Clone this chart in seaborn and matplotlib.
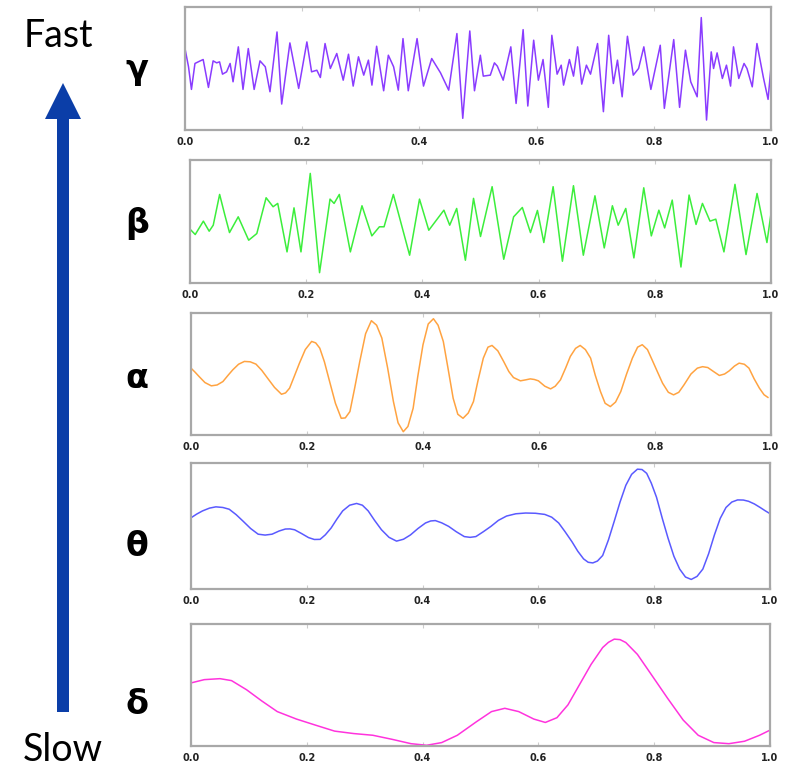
import matplotlib
matplotlib.use("Agg")
import matplotlib.pyplot as plt
import seaborn as sns
import pandas as pd
from matplotlib.patches import FancyArrow

# ---------------- data (normalised 0 = bottom spine, 1 = top spine) -------------
gamma_t = [0.000, 0.006, 0.011, 0.017, 0.026, 0.031, 0.040, 0.048, 0.054, 0.059, 0.064, 0.071, 0.077,
           0.082, 0.091, 0.099, 0.108, 0.118, 0.128, 0.137, 0.145, 0.157, 0.165, 0.179, 0.194, 0.208,
           0.216, 0.225, 0.231, 0.239, 0.248, 0.259, 0.270, 0.279, 0.287, 0.296, 0.305, 0.313, 0.319,
           0.327, 0.339, 0.347, 0.356, 0.364, 0.372, 0.381, 0.396, 0.407, 0.421, 0.436, 0.450, 0.464,
           0.474, 0.486, 0.494, 0.504, 0.509, 0.521, 0.528, 0.533, 0.543, 0.556, 0.565, 0.577, 0.585,
           0.595, 0.603, 0.611, 0.620, 0.626, 0.635, 0.642, 0.646, 0.656, 0.663, 0.670, 0.677, 0.685,
           0.692, 0.704, 0.714, 0.723, 0.731, 0.738, 0.746, 0.755, 0.765, 0.774, 0.783, 0.795, 0.811,
           0.818, 0.834, 0.844, 0.854, 0.863, 0.874, 0.881, 0.890, 0.898, 0.902, 0.908, 0.917, 0.924,
           0.931, 0.936, 0.945, 0.954, 0.959, 0.968, 0.976, 0.987, 0.995, 1.000]
gamma_v = [0.662, 0.514, 0.330, 0.541, 0.562, 0.573, 0.346, 0.562, 0.546, 0.554, 0.454, 0.473, 0.541,
           0.392, 0.676, 0.330, 0.662, 0.330, 0.562, 0.514, 0.311, 0.797, 0.211, 0.708, 0.338, 0.716,
           0.473, 0.486, 0.427, 0.703, 0.500, 0.622, 0.405, 0.616, 0.357, 0.595, 0.446, 0.568, 0.365,
           0.681, 0.319, 0.608, 0.514, 0.324, 0.743, 0.319, 0.743, 0.357, 0.581, 0.465, 0.324, 0.784,
           0.095, 0.805, 0.319, 0.608, 0.438, 0.446, 0.546, 0.519, 0.405, 0.676, 0.216, 0.816, 0.195,
           0.730, 0.405, 0.573, 0.184, 0.770, 0.454, 0.527, 0.365, 0.573, 0.438, 0.676, 0.373, 0.527,
           0.454, 0.703, 0.149, 0.770, 0.378, 0.568, 0.270, 0.762, 0.446, 0.500, 0.676, 0.330, 0.689,
           0.176, 0.735, 0.184, 0.649, 0.392, 0.270, 0.914, 0.081, 0.635, 0.500, 0.627, 0.419, 0.527,
           0.357, 0.676, 0.419, 0.541, 0.500, 0.351, 0.703, 0.427, 0.249, 0.514]

beta_t = [0.000, 0.009, 0.023, 0.033, 0.040, 0.051, 0.060, 0.068, 0.083, 0.101, 0.115, 0.131, 0.143,
          0.151, 0.167, 0.179, 0.191, 0.207, 0.223, 0.241, 0.248, 0.257, 0.276, 0.296, 0.313, 0.326,
          0.334, 0.350, 0.378, 0.395, 0.411, 0.437, 0.447, 0.459, 0.474, 0.488, 0.500, 0.520, 0.540,
          0.557, 0.572, 0.586, 0.598, 0.609, 0.625, 0.641, 0.660, 0.677, 0.697, 0.713, 0.727, 0.737,
          0.750, 0.764, 0.781, 0.794, 0.807, 0.817, 0.830, 0.845, 0.859, 0.871, 0.882, 0.895, 0.905,
          0.919, 0.938, 0.957, 0.976, 0.993, 1.000]
beta_v = [0.438, 0.394, 0.503, 0.421, 0.470, 0.720, 0.552, 0.410, 0.538, 0.348, 0.402, 0.693, 0.620,
          0.647, 0.253, 0.611, 0.253, 0.891, 0.084, 0.682, 0.647, 0.720, 0.253, 0.628, 0.383, 0.457,
          0.457, 0.720, 0.226, 0.682, 0.429, 0.592, 0.470, 0.606, 0.185, 0.688, 0.378, 0.783, 0.193,
          0.538, 0.614, 0.410, 0.590, 0.329, 0.783, 0.177, 0.791, 0.226, 0.709, 0.285, 0.628, 0.470,
          0.606, 0.204, 0.774, 0.383, 0.592, 0.448, 0.674, 0.130, 0.715, 0.476, 0.647, 0.503, 0.519,
          0.253, 0.802, 0.231, 0.728, 0.329, 0.565]

alpha_t = [0.000, 0.007, 0.014, 0.024, 0.035, 0.045, 0.055, 0.064, 0.072, 0.082, 0.092, 0.102, 0.112,
           0.122, 0.132, 0.144, 0.156, 0.163, 0.170, 0.178, 0.187, 0.197, 0.208, 0.215, 0.222, 0.230,
           0.239, 0.249, 0.259, 0.266, 0.274, 0.282, 0.291, 0.301, 0.311, 0.320, 0.329, 0.339, 0.349,
           0.357, 0.366, 0.374, 0.383, 0.391, 0.400, 0.409, 0.418, 0.426, 0.435, 0.443, 0.452, 0.460,
           0.469, 0.478, 0.487, 0.495, 0.504, 0.512, 0.519, 0.529, 0.539, 0.548, 0.556, 0.568, 0.577,
           0.585, 0.592, 0.599, 0.610, 0.620, 0.628, 0.637, 0.646, 0.654, 0.663, 0.671, 0.680, 0.689,
           0.697, 0.706, 0.714, 0.723, 0.732, 0.741, 0.751, 0.761, 0.770, 0.778, 0.787, 0.795, 0.804,
           0.813, 0.823, 0.832, 0.841, 0.850, 0.862, 0.873, 0.882, 0.891, 0.901, 0.911, 0.920, 0.928,
           0.937, 0.945, 0.954, 0.962, 0.971, 0.980, 0.988, 0.995]
alpha_v = [0.548, 0.515, 0.479, 0.430, 0.403, 0.410, 0.438, 0.490, 0.534, 0.580, 0.603, 0.600, 0.581,
           0.530, 0.466, 0.390, 0.334, 0.345, 0.384, 0.480, 0.589, 0.700, 0.767, 0.755, 0.712, 0.600,
           0.438, 0.260, 0.137, 0.140, 0.192, 0.380, 0.603, 0.830, 0.937, 0.900, 0.795, 0.550, 0.274,
           0.100, 0.027, 0.070, 0.219, 0.480, 0.740, 0.910, 0.953, 0.900, 0.767, 0.550, 0.301, 0.170,
           0.137, 0.180, 0.274, 0.450, 0.630, 0.720, 0.734, 0.690, 0.603, 0.520, 0.471, 0.444, 0.452,
           0.460, 0.455, 0.444, 0.400, 0.378, 0.400, 0.452, 0.550, 0.644, 0.710, 0.734, 0.700, 0.630,
           0.490, 0.356, 0.260, 0.233, 0.270, 0.356, 0.500, 0.630, 0.720, 0.740, 0.700, 0.616, 0.520,
           0.425, 0.350, 0.329, 0.350, 0.411, 0.500, 0.548, 0.560, 0.553, 0.520, 0.488, 0.500, 0.526,
           0.565, 0.589, 0.580, 0.548, 0.460, 0.384, 0.330, 0.307]

theta_t = [0.000, 0.010, 0.020, 0.032, 0.043, 0.055, 0.066, 0.078, 0.090, 0.103, 0.116, 0.128, 0.140,
           0.152, 0.163, 0.171, 0.179, 0.191, 0.203, 0.213, 0.223, 0.232, 0.242, 0.252, 0.262, 0.274,
           0.286, 0.296, 0.306, 0.317, 0.329, 0.342, 0.355, 0.367, 0.379, 0.392, 0.405, 0.414, 0.422,
           0.433, 0.445, 0.458, 0.472, 0.482, 0.492, 0.505, 0.518, 0.531, 0.545, 0.561, 0.578, 0.595,
           0.611, 0.623, 0.635, 0.646, 0.658, 0.668, 0.678, 0.686, 0.694, 0.702, 0.711, 0.721, 0.731,
           0.741, 0.751, 0.761, 0.771, 0.779, 0.787, 0.795, 0.804, 0.814, 0.824, 0.834, 0.844, 0.854,
           0.864, 0.874, 0.884, 0.894, 0.904, 0.914, 0.924, 0.934, 0.944, 0.954, 0.963, 0.973, 0.983,
           0.992, 1.000]
theta_v = [0.565, 0.595, 0.620, 0.642, 0.652, 0.647, 0.633, 0.590, 0.538, 0.480, 0.435, 0.428, 0.435,
           0.460, 0.476, 0.477, 0.470, 0.440, 0.408, 0.393, 0.394, 0.430, 0.484, 0.555, 0.620, 0.665,
           0.679, 0.665, 0.620, 0.545, 0.470, 0.410, 0.380, 0.395, 0.429, 0.480, 0.524, 0.540, 0.543,
           0.525, 0.497, 0.455, 0.416, 0.410, 0.416, 0.455, 0.497, 0.545, 0.579, 0.597, 0.603, 0.601,
           0.592, 0.570, 0.524, 0.455, 0.375, 0.300, 0.239, 0.212, 0.207, 0.222, 0.266, 0.390, 0.538,
           0.690, 0.823, 0.910, 0.951, 0.948, 0.918, 0.840, 0.728, 0.560, 0.402, 0.260, 0.158, 0.095,
           0.076, 0.100, 0.158, 0.280, 0.429, 0.560, 0.647, 0.690, 0.707, 0.706, 0.696, 0.675, 0.647,
           0.620, 0.598]

delta_t = [0.000, 0.023, 0.050, 0.070, 0.096, 0.122, 0.149, 0.182, 0.215, 0.248, 0.281, 0.314, 0.347,
           0.380, 0.407, 0.433, 0.460, 0.493, 0.519, 0.542, 0.566, 0.592, 0.612, 0.632, 0.651, 0.671,
           0.691, 0.711, 0.721, 0.731, 0.741, 0.751, 0.771, 0.797, 0.823, 0.850, 0.876, 0.903, 0.929,
           0.956, 0.982, 1.000]
delta_v = [0.517, 0.544, 0.552, 0.536, 0.461, 0.370, 0.282, 0.221, 0.171, 0.122, 0.102, 0.088, 0.055,
           0.019, 0.006, 0.028, 0.088, 0.199, 0.282, 0.309, 0.282, 0.221, 0.193, 0.232, 0.337, 0.503,
           0.669, 0.807, 0.850, 0.876, 0.872, 0.848, 0.751, 0.572, 0.392, 0.213, 0.088, 0.028, 0.019,
           0.039, 0.088, 0.130]

band_labels = ["γ", "β", "α", "θ", "δ"]
band_colors = ["#8a3cff", "#3cee3c", "#ffa341", "#5a5aff", "#ff33dd"]
tick_values = [0.0, 0.2, 0.4, 0.6, 0.8, 1.0]
tick_labels = ["0.0", "0.2", "0.4", "0.6", "0.8", "1.0"]
speed_labels = ["Fast", "Slow"]

series = [(gamma_t, gamma_v), (beta_t, beta_v), (alpha_t, alpha_v), (theta_t, theta_v), (delta_t, delta_v)]

# ---------------- layout (pixel boxes: left, top, right, bottom) -------------
W, H = 790, 770
boxes = [(185, 7, 771, 130), (190, 160, 771, 283), (191, 313, 771, 435),
         (191, 463, 770, 589), (191, 624, 770, 746)]
label_pos = [(137, 70), (137, 224), (137, 378), (137, 546), (137, 704)]

sns.set_style("white")
plt.rcParams["font.family"] = ["DejaVu Sans"]

fig = plt.figure(figsize=(W / 100, H / 100), dpi=100)

# overlay for arrow and labels (pixel coordinates)
ov = fig.add_axes([0, 0, 1, 1], zorder=-1)
ov.set_xlim(0, W)
ov.set_ylim(H, 0)
ov.axis("off")

for (t, v), col, (l, tp, r, b) in zip(series, band_colors, boxes):
    ax = fig.add_axes([l / W, 1 - b / H, (r - l) / W, (b - tp) / H])
    df = pd.DataFrame({"t": t, "v": v})
    sns.lineplot(data=df, x="t", y="v", ax=ax, color=col, linewidth=1.1,
                 solid_joinstyle="round", solid_capstyle="round")
    ax.set_xlim(0, 1)
    ax.set_ylim(0, 1)
    ax.set_xlabel("")
    ax.set_ylabel("")
    ax.set_yticks([])
    ax.set_xticks(tick_values)
    ax.set_xticklabels(tick_labels, fontsize=7, fontweight="bold", color="#222222")
    ax.tick_params(axis="x", direction="in", length=3, width=0.8, color="#cccccc",
                   top=True, bottom=True, pad=5)
    for s in ax.spines.values():
        s.set_color("#a8a8a8")
        s.set_linewidth(1.6)

for lab, (x, y) in zip(band_labels, label_pos):
    ov.text(x, y, lab, fontsize=24, fontweight="bold", ha="center", va="center",
            family="DejaVu Sans", color="black")

ov.add_patch(FancyArrow(63, 712, 0, -(712 - 83), width=12, head_width=36, head_length=36,
                        length_includes_head=True, color="#0b3ea8", linewidth=0))
ov.text(58, 36, speed_labels[0], fontsize=27, family="Lato", ha="center", va="center", color="black")
ov.text(63, 750, speed_labels[1], fontsize=27, family="Lato", ha="center", va="center", color="black")

fig.savefig("out.png", dpi=100)
